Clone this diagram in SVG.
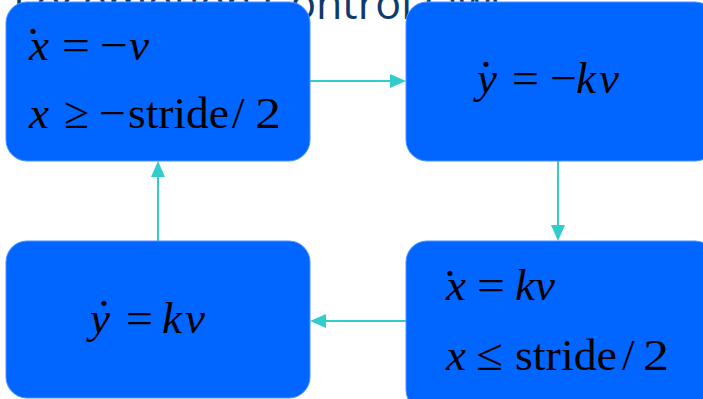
<svg xmlns="http://www.w3.org/2000/svg" width="703" height="399" viewBox="0 0 703 399">
<defs>
<style>
.title{font-family:"Open Sans","Noto Sans",sans-serif;font-size:43px;fill:#0f3a6b}
.box{fill:#0066ff;stroke:#4d94ff;stroke-width:1}
.m{font-family:"Liberation Serif","Times New Roman",serif;font-size:45px;fill:#000}
.i{font-style:italic}
.dot{font-family:"Liberation Serif","Times New Roman",serif;font-size:44px;fill:#000;text-anchor:middle}
.conn{stroke:#33cccc;stroke-width:2;fill:none}
.head{fill:#33cccc}
</style>
</defs>
<rect width="703" height="399" fill="#ffffff"/>
<text class="title" x="13" y="19">Locomotion Control laws</text>

<g id="connectors">
<line class="conn" x1="310" y1="81" x2="392" y2="81"/>
<path class="head" d="M390,74 L406,81 L390,88 z"/>
<line class="conn" x1="558" y1="161" x2="558" y2="227"/>
<path class="head" d="M551,225 L558,241 L565,225 z"/>
<line class="conn" x1="406" y1="321" x2="324" y2="321"/>
<path class="head" d="M326,314 L310,321 L326,328 z"/>
<line class="conn" x1="158" y1="241" x2="158" y2="175"/>
<path class="head" d="M151,177 L158,161 L165,177 z"/>
</g>

<g id="node1">
<rect class="box" x="6" y="2" width="304" height="159" rx="21"/>
<text class="m"><tspan class="i" x="29" y="60">x</tspan><tspan x="62" y="60" textLength="28" lengthAdjust="spacingAndGlyphs">=</tspan><tspan x="100" y="60" textLength="28" lengthAdjust="spacingAndGlyphs">−</tspan><tspan class="i" x="129" y="60">v</tspan></text>
<text class="dot" x="33" y="34">.</text>
<text class="m"><tspan class="i" x="29" y="128">x</tspan><tspan x="64" y="128" textLength="25" lengthAdjust="spacingAndGlyphs">≥</tspan><tspan x="99" y="128" textLength="27" lengthAdjust="spacingAndGlyphs">−</tspan><tspan x="128" y="128" textLength="101" lengthAdjust="spacingAndGlyphs">stride</tspan><tspan x="232" y="128">/</tspan><tspan x="255" y="128" textLength="26" lengthAdjust="spacingAndGlyphs">2</tspan></text>
</g>

<g id="node2">
<rect class="box" x="406" y="2" width="310" height="159" rx="21"/>
<text class="m"><tspan class="i" x="477" y="93">y</tspan><tspan x="512" y="93" textLength="27" lengthAdjust="spacingAndGlyphs">=</tspan><tspan x="550" y="93" textLength="27" lengthAdjust="spacingAndGlyphs">−</tspan><tspan class="i" x="576" y="93">k</tspan><tspan class="i" x="599" y="93">v</tspan></text>
<text class="dot" x="486" y="67">.</text>
</g>

<g id="node3">
<rect class="box" x="6" y="241" width="304" height="157" rx="21"/>
<text class="m"><tspan class="i" x="90" y="333">y</tspan><tspan x="126" y="333" textLength="27" lengthAdjust="spacingAndGlyphs">=</tspan><tspan class="i" x="162" y="333">k</tspan><tspan class="i" x="185" y="333">v</tspan></text>
<text class="dot" x="104" y="306">.</text>
</g>

<g id="node4">
<rect class="box" x="406" y="241" width="310" height="170" rx="21"/>
<text class="m"><tspan class="i" x="446" y="300">x</tspan><tspan x="477" y="300" textLength="28" lengthAdjust="spacingAndGlyphs">=</tspan><tspan class="i" x="515" y="300">k</tspan><tspan class="i" x="535" y="300">v</tspan></text>
<text class="dot" x="450" y="276">.</text>
<text class="m"><tspan class="i" x="446" y="370">x</tspan><tspan x="476" y="370" textLength="27" lengthAdjust="spacingAndGlyphs">≤</tspan><tspan x="515" y="370" textLength="102" lengthAdjust="spacingAndGlyphs">stride</tspan><tspan x="622" y="370">/</tspan><tspan x="643" y="370" textLength="26" lengthAdjust="spacingAndGlyphs">2</tspan></text>
</g>
</svg>
